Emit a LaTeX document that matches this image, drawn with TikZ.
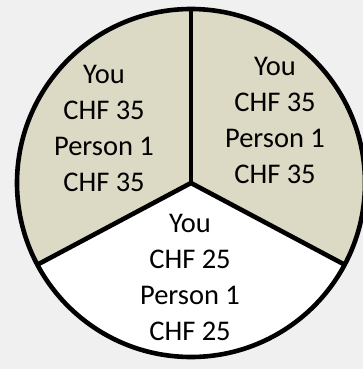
\documentclass[tikz,border=0pt]{standalone}
\usepackage{fontspec}
\setmainfont{Carlito}
\definecolor{share}{RGB}{220,217,196}
\definecolor{backg}{RGB}{240,240,240}
\begin{document}
\begin{tikzpicture}[x=1pt,y=-1pt,line width=4.6pt,line join=round,
 lab/.style={align=center,inner sep=0pt,font=\fontsize{28.5}{36}\selectfont}]
\fill[backg] (0,0) rectangle (363,369);
\useasboundingbox (0,0) rectangle (363,369);
\coordinate (c) at (191,183);
\coordinate (top) at ([shift={(-90:174)}]c);
\coordinate (lft) at ([shift={(152:174)}]c);
\coordinate (rgt) at ([shift={(28:174)}]c);
% three slices
\fill[share] (c) -- (top) arc[start angle=-90,end angle=-208,radius=174] -- cycle;
\fill[share] (c) -- (top) arc[start angle=-90,end angle=28,radius=174] -- cycle;
\fill[white] (c) -- (rgt) arc[start angle=28,end angle=152,radius=174] -- cycle;
\draw (c) circle[radius=174];
\draw (c) -- (top);
\draw (c) -- (lft);
\draw (c) -- (rgt);
\node[lab] (sa) at (104,128) {You\\CHF 35\\Person 1\\CHF 35};
\node[lab] (sb) at (275,120) {You\\CHF 35\\Person 1\\CHF 35};
\node[lab] (sc) at (190,277) {You\\CHF 25\\Person 1\\CHF 25};
\end{tikzpicture}
\end{document}
